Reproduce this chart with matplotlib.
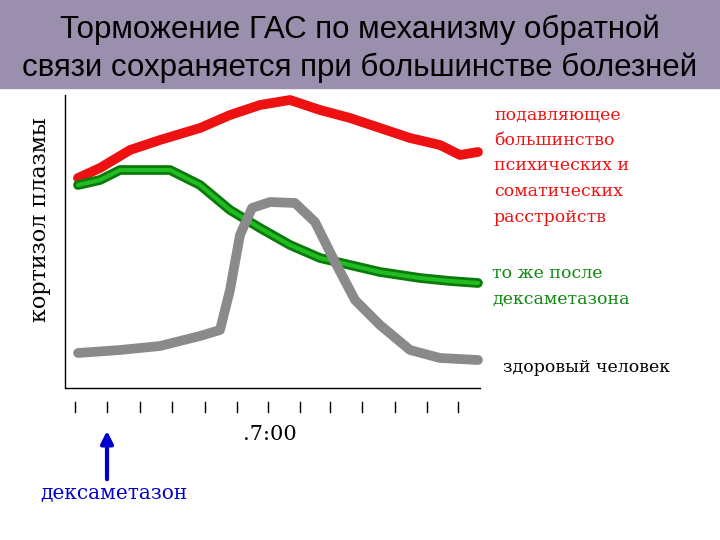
import matplotlib
matplotlib.use("Agg")
import matplotlib.pyplot as plt
from matplotlib.patches import Rectangle

red_x = [78,100,130,160,200,230,260,290,320,350,380,410,440,460,478]
red_y = [178,168,150,140,128,115,105,100,110,118,128,138,145,155,152]
green_x = [78,100,120,170,200,230,260,290,320,350,380,420,450,478]
green_y = [185,180,170,170,185,210,228,245,258,265,272,278,281,283]
gray_x = [78,120,160,200,220,230,240,252,270,295,315,335,355,380,410,440,478]
gray_y = [353,350,346,336,330,290,235,208,202,203,222,262,300,325,350,358,360]
tick_x = [75,107,140,172,205,237,268,300,330,362,395,427,458]

fig = plt.figure(figsize=(7.2,5.4), dpi=100)
ax = fig.add_axes([0,0,1,1])
ax.set_xlim(0,720); ax.set_ylim(540,0); ax.axis('off')
ax.add_patch(Rectangle((0,0),720,88,color='#9a90ae',zorder=0))
ax.text(360,30,"Торможение ГАС по механизму обратной",ha='center',va='center',fontsize=22.5,family='Liberation Sans')
ax.text(360,68,"связи сохраняется при большинстве болезней",ha='center',va='center',fontsize=22.5,family='Liberation Sans')
ax.plot([65,65,480],[95,388,388],color='black',lw=1)
for t in tick_x:
    ax.plot([t,t],[402,412],color='black',lw=1)
ax.plot(red_x,red_y,color='#ee1111',lw=7,solid_capstyle='round',solid_joinstyle='round')
ax.plot(green_x,green_y,color='#0a7a0a',lw=7,solid_capstyle='round',solid_joinstyle='round')
ax.plot(green_x,green_y,color='#22bb22',lw=3,solid_capstyle='round',solid_joinstyle='round')
ax.plot(gray_x,gray_y,color='#8a8a8a',lw=7,solid_capstyle='round',solid_joinstyle='round')
ax.text(40,220,"кортизол плазмы",rotation=90,ha='center',va='center',fontsize=16,family='DejaVu Serif')
ax.text(270,435,".7:00",ha='center',va='center',fontsize=15,family='DejaVu Serif')
ax.annotate("",xy=(107,428),xytext=(107,482),arrowprops=dict(arrowstyle='-|>',color='#0000cc',lw=3,mutation_scale=18))
ax.text(40,493,"дексаметазон",ha='left',va='center',fontsize=14.5,color='#0000cc',family='DejaVu Serif')
sf = dict(fontsize=12.5,family='DejaVu Serif',ha='left',va='center')
for i,s in enumerate(["подавляющее","большинство","психических и","соматических","расстройств"]):
    ax.text(494,115+i*25.5,s,color='#ee1111',**sf)
ax.text(492,273,"то же после",color='#118811',**sf)
ax.text(492,299,"дексаметазона",color='#118811',**sf)
ax.text(503,367,"здоровый человек",color='black',**sf)
fig.savefig("out.png",dpi=100)
